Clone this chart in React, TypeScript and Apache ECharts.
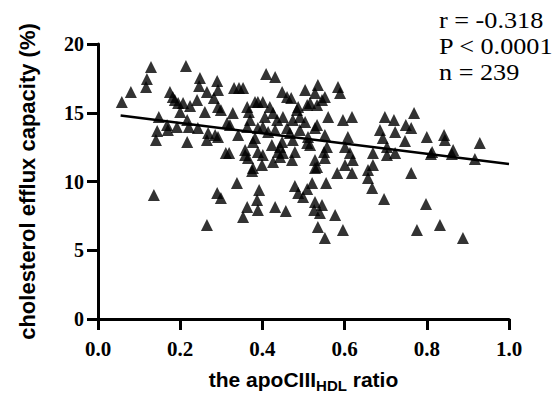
import React, { useEffect, useRef } from "react";
import * as echarts from "echarts";

const ratioX: number[] = [
  0.058, 0.080, 0.129, 0.119, 0.117, 0.214, 0.148, 0.144, 0.141, 0.168,
  0.170, 0.175, 0.182, 0.187, 0.195, 0.200, 0.192, 0.217, 0.207, 0.224,
  0.217, 0.221, 0.241, 0.248, 0.246, 0.136, 0.243, 0.265, 0.260, 0.268,
  0.265, 0.290, 0.292, 0.282, 0.292, 0.299, 0.285, 0.292, 0.311, 0.319,
  0.331, 0.343, 0.353, 0.328, 0.314, 0.341, 0.290, 0.299, 0.338, 0.265,
  0.321, 0.363, 0.367, 0.370, 0.358, 0.365, 0.382, 0.389, 0.389, 0.377,
  0.377, 0.401, 0.409, 0.431, 0.406, 0.418, 0.426, 0.436, 0.414, 0.423,
  0.401, 0.448, 0.460, 0.470, 0.450, 0.460, 0.467, 0.443, 0.450, 0.443,
  0.474, 0.484, 0.491, 0.363, 0.401, 0.431, 0.491, 0.382, 0.448, 0.509,
  0.552, 0.608, 0.557, 0.601, 0.389, 0.438, 0.479, 0.504, 0.533, 0.560,
  0.596, 0.618, 0.509, 0.533, 0.545, 0.504, 0.535, 0.528, 0.552, 0.584,
  0.589, 0.358, 0.472, 0.399, 0.375, 0.426, 0.528, 0.552, 0.533, 0.550,
  0.601, 0.582, 0.618, 0.620, 0.613, 0.657, 0.657, 0.667, 0.392, 0.387,
  0.363, 0.389, 0.353, 0.431, 0.457, 0.479, 0.487, 0.499, 0.509, 0.521,
  0.555, 0.528, 0.526, 0.545, 0.540, 0.577, 0.535, 0.596, 0.552, 0.698,
  0.720, 0.769, 0.686, 0.723, 0.749, 0.762, 0.693, 0.747, 0.800, 0.842,
  0.844, 0.929, 0.864, 0.813, 0.703, 0.669, 0.703, 0.723, 0.810, 0.861,
  0.917, 0.669, 0.762, 0.696, 0.798, 0.776, 0.832, 0.888, 0.528, 0.487,
  0.516, 0.474, 0.511, 0.516, 0.528,
];

const effluxY: number[] = [
  15.78, 16.51, 18.33, 17.45, 16.87, 18.40, 14.69, 13.67, 13.02, 14.11,
  13.75, 16.51, 16.15, 15.93, 15.71, 15.05, 13.96, 12.87, 15.71, 15.49,
  14.47, 13.96, 15.93, 17.53, 16.95, 9.02, 13.89, 16.51, 15.05, 13.53,
  13.02, 17.31, 16.65, 16.07, 15.42, 15.20, 13.38, 13.24, 12.07, 12.07,
  16.80, 16.80, 16.80, 14.98, 14.25, 13.38, 9.16, 8.80, 9.89, 6.84,
  14.11, 15.42, 15.05, 14.47, 12.29, 11.71, 15.78, 15.78, 13.89, 12.87,
  10.98, 15.78, 17.82, 17.60, 14.69, 15.42, 14.98, 14.47, 13.60, 12.65,
  11.93, 16.51, 16.15, 16.07, 14.69, 13.89, 13.53, 12.51, 12.07, 11.78,
  13.02, 15.20, 14.69, 13.96, 13.96, 13.75, 13.75, 13.16, 12.87, 12.80,
  13.38, 13.24, 12.51, 12.51, 12.15, 12.15, 12.15, 14.33, 14.11, 14.69,
  14.47, 14.69, 15.56, 15.56, 15.93, 16.65, 17.02, 16.44, 16.15, 16.87,
  16.44, 11.93, 11.56, 11.20, 10.76, 11.42, 11.56, 11.71, 11.05, 12.15,
  11.20, 10.62, 10.62, 11.56, 12.07, 10.84, 10.25, 9.53, 9.38, 8.65,
  8.15, 7.93, 7.42, 8.15, 7.85, 9.67, 9.16, 8.87, 9.45, 9.89,
  9.89, 8.51, 7.93, 8.29, 7.71, 7.56, 6.69, 6.47, 5.89, 14.69,
  14.47, 14.98, 13.75, 13.60, 14.11, 13.89, 13.16, 12.95, 13.24, 13.38,
  13.02, 12.80, 12.29, 12.15, 12.51, 12.07, 11.93, 12.07, 12.00, 12.00,
  11.64, 11.20, 10.62, 8.73, 8.36, 6.47, 6.84, 5.89, 10.98, 15.42,
  15.71, 14.47, 13.24, 12.65, 13.89,
];

const fitX: number[] = [0.055, 1.0];
const fitY: number[] = [14.8, 11.27];

const xTicks = { min: 0, max: 1, interval: 0.2 };
const yTicks = { min: 0, max: 20, interval: 5 };

const statLines: string[] = ["r = -0.318", "P < 0.0001", "n = 239"];

export default function App() {
  const ref = useRef<HTMLDivElement>(null);

  useEffect(() => {
    if (!ref.current) return;
    const chart = echarts.init(ref.current, undefined, { renderer: "svg" });
    const points = ratioX.map((x, i) => [x, effluxY[i]]);
    const fit = fitX.map((x, i) => [x, fitY[i]]);
    const axisLineStyle = { color: "#000", width: 3 };
    const serifLabel = {
      color: "#000",
      fontFamily: "Liberation Serif",
      fontWeight: "bold" as const,
      fontSize: 20,
    };
    chart.setOption({
      animation: false,
      backgroundColor: "#fff",
      grid: { left: 98, right: 47, top: 44, bottom: 74, outerBoundsMode: "none", containLabel: false },
      xAxis: {
        type: "value",
        min: xTicks.min,
        max: xTicks.max,
        interval: xTicks.interval,
        splitLine: { show: false },
        axisLine: { show: true, lineStyle: axisLineStyle },
        axisTick: { show: true, length: 11, lineStyle: { color: "#000", width: 3 } },
        axisLabel: { ...serifLabel, fontSize: 21, margin: 19, formatter: (v: number) => v.toFixed(1) },
        name: "{a|the apoCIII}{b|HDL}{a| ratio}",
        nameLocation: "middle",
        nameGap: 46,
        nameTextStyle: {
          rich: {
            a: {
              fontFamily: "Liberation Sans",
              fontWeight: "bold",
              fontSize: 21,
              lineHeight: 28,
              color: "#000",
            },
            b: {
              fontFamily: "Liberation Sans",
              fontWeight: "bold",
              fontSize: 15,
              lineHeight: 28,
              verticalAlign: "bottom",
              color: "#000",
            },
          },
        },
      },
      yAxis: {
        type: "value",
        min: yTicks.min,
        max: yTicks.max,
        interval: yTicks.interval,
        splitLine: { show: false },
        axisLine: { show: true, lineStyle: axisLineStyle },
        axisTick: { show: true, length: 11, lineStyle: { color: "#000", width: 3 } },
        axisLabel: { ...serifLabel, margin: 14 },
        name: "cholesterol efflux capacity (%)",
        nameLocation: "middle",
        nameGap: 60,
        nameTextStyle: {
          fontFamily: "Liberation Sans",
          fontWeight: "bold",
          fontSize: 22,
          color: "#000",
        },
      },
      graphic: statLines.map((t, i) => ({
        type: "text",
        x: 439,
        y: 9 + i * 26,
        scaleX: 1.14,
        style: {
          text: t,
          fontFamily: "Liberation Serif",
          fontSize: 23,
          fill: "#000",
        },
      })),
      series: [
        {
          type: "scatter",
          data: points,
          symbol: "triangle",
          symbolSize: 12,
          itemStyle: { color: "#000" },
          z: 2,
        },
        {
          type: "line",
          data: fit,
          showSymbol: false,
          symbol: "none",
          lineStyle: { color: "#000", width: 2.5 },
          z: 3,
        },
      ],
    });
    return () => chart.dispose();
  }, []);

  return (
    <div
      ref={ref}
      style={{ position: "fixed", left: 0, top: 0, width: 556, height: 393, background: "#fff" }}
    />
  );
}
